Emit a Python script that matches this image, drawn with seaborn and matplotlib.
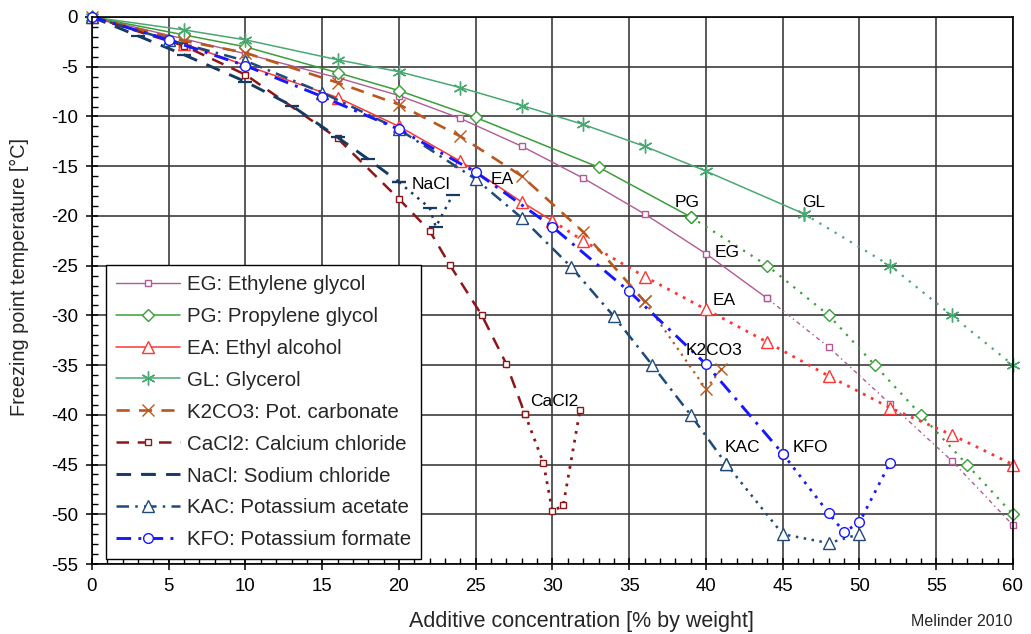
import matplotlib
matplotlib.use("Agg")
import matplotlib.pyplot as plt
from matplotlib.lines import Line2D
from matplotlib.ticker import MultipleLocator
import pandas as pd
import seaborn as sns

# Freezing point of aqueous secondary fluids vs. concentration (Melinder 2010)
eg_conc = [0, 6, 10, 16, 20, 24, 28, 32, 36, 40, 44, 48, 52, 56, 60]
eg_temp = [0, -2.2, -3.7, -6.1, -7.9, -10.2, -13.0, -16.2, -19.8, -23.8, -28.3, -33.2, -38.9, -44.6, -51.1]

pg_conc = [0, 6, 10, 16, 20, 25, 33, 39, 44, 48, 51, 54, 57, 60]
pg_temp = [0, -1.8, -3.0, -5.6, -7.4, -10.1, -15.1, -20.1, -25.0, -30.0, -35.0, -40.0, -45.0, -50.0]

ea_conc = [0, 6, 16, 20, 24, 28, 30, 32, 36, 40, 44, 48, 52, 56, 60]
ea_temp = [0, -2.7, -8.1, -11.0, -14.5, -18.6, -20.5, -22.5, -26.1, -29.4, -32.7, -36.1, -39.3, -42.0, -45.0]

gl_conc = [0, 6, 10, 16, 20, 24, 28, 32, 36, 40, 46.4, 52, 56, 60]
gl_temp = [0, -1.3, -2.3, -4.3, -5.5, -7.1, -8.9, -10.8, -13.0, -15.5, -19.8, -25.0, -30.0, -35.0]

k2co3_conc = [0, 6, 10, 16, 20, 24, 28, 32, 36, 40, 41]
k2co3_temp = [0, -2.4, -3.6, -6.6, -8.8, -12.0, -16.0, -21.6, -28.6, -37.4, -35.4]

cacl2_conc = [0, 6, 10, 16, 20, 22, 23.3, 25.4, 27, 28.2, 29.4, 30, 30.7, 31.8]
cacl2_temp = [0, -2.9, -5.8, -12.2, -18.3, -21.5, -24.9, -30.0, -34.9, -39.9, -44.8, -49.7, -49.1, -39.5]

nacl_conc = [0, 3, 6, 10, 13, 16, 18, 20, 22, 22.4, 23.5]
nacl_temp = [0, -1.9, -3.8, -6.5, -8.9, -12.1, -14.3, -16.6, -19.2, -21.1, -17.9]

kac_conc = [0, 5, 10, 15, 20, 25, 28, 31.2, 34, 36.5, 39, 41.3, 45, 48, 50]
kac_temp = [0, -2.3, -4.4, -7.6, -11.3, -16.3, -20.2, -25.1, -30.1, -35.0, -40.0, -44.9, -52.0, -52.9, -52.0]

kfo_conc = [0, 5, 10, 15, 20, 25, 30, 35, 40, 45, 48, 49, 50, 52]
kfo_temp = [0, -2.3, -4.9, -8.0, -11.3, -15.6, -21.1, -27.6, -34.9, -43.9, -49.9, -51.8, -50.8, -44.8]

legend_labels = [
    "EG: Ethylene glycol", "PG: Propylene glycol", "EA: Ethyl alcohol",
    "GL: Glycerol", "K2CO3: Pot. carbonate", "CaCl2: Calcium chloride",
    "NaCl: Sodium chloride", "KAC: Potassium acetate", "KFO: Potassium formate",
]

# (conc, temp, end of measured range, color, marker, marker size,
#  main linestyle, main lw, extrapolated linestyle, extrapolated lw)
DOT = (0, (1, 2.2))
series = [
    (eg_conc, eg_temp, 44, "#b25a94", "s", 5, "-", 1.0, (0, (3, 2.5, 1, 2.5)), 1.0),
    (pg_conc, pg_temp, 39, "#3a9e3a", "D", 6.5, "-", 1.1, (0, (1, 3)), 1.6),
    (ea_conc, ea_temp, 30, "#ff3434", "^", 8, "-", 1.1, DOT, 2.0),
    (gl_conc, gl_temp, 46.4, "#4aa872", (6, 2, 0), 10, "-", 1.1, (0, (1, 3)), 1.6),
    (k2co3_conc, k2co3_temp, 36, "#b8581f", "x", 8, (0, (5, 3.5)), 1.9, DOT, 1.6),
    (cacl2_conc, cacl2_temp, 28.2, "#8e1616", "s", 5, (0, (5, 3.5)), 1.8, DOT, 2.0),
    (nacl_conc, nacl_temp, 20, "#163a66", "_", 10, (0, (5, 3.5)), 2.1, DOT, 1.8),
    (kac_conc, kac_temp, 41.3, "#1f4a7c", "^", 8, (0, (5, 2.5, 1, 2.5)), 1.8, DOT, 1.8),
    (kfo_conc, kfo_temp, 45, "#1818ff", "o", 7, (0, (5, 2.5, 1, 2.5)), 2.1, DOT, 2.0),
]

sns.set_style("ticks")
plt.rcParams["font.family"] = ["Liberation Sans", "DejaVu Sans"]
plt.rcParams["axes.unicode_minus"] = False

fig = plt.figure(figsize=(10.31, 6.34), dpi=100)
ax = fig.add_axes([0.0892, 0.1104, 0.8933, 0.8628])

handles = []
for conc, temp, end, color, marker, ms, ls, lw, ext_ls, ext_lw in series:
    df = pd.DataFrame({"conc": conc, "temp": temp})
    measured = df[df["conc"] <= end]
    extrapolated = df[df["conc"] >= end]
    mew = 1.6 if marker == "_" else 1.0
    common = dict(ax=ax, x="conc", y="temp", color=color, marker=marker,
                  markersize=ms, mfc="white", mec=color, mew=mew,
                  sort=False, estimator=None, legend=False, clip_on=False)
    if len(extrapolated) > 1:
        sns.lineplot(data=extrapolated, linestyle=ext_ls, linewidth=ext_lw, **common)
    sns.lineplot(data=measured, linestyle=ls, linewidth=lw, **common)
    handles.append(Line2D([], [], color=color, linestyle=ls, linewidth=lw,
                          marker=marker, markersize=ms, mfc="white",
                          mec=color, mew=mew))

ax.set_xlim(0, 60)
ax.set_ylim(-55, 0)
ax.xaxis.set_major_locator(MultipleLocator(5))
ax.xaxis.set_minor_locator(MultipleLocator(1))
ax.yaxis.set_major_locator(MultipleLocator(5))
ax.yaxis.set_minor_locator(MultipleLocator(1))
ax.tick_params(which="major", direction="inout", length=8, width=1.1,
               labelsize=13.4, colors="black", pad=6)
ax.tick_params(which="minor", direction="in", length=4, width=1.0, colors="black")
ax.grid(which="major", color="#353535", linewidth=1.15)
ax.set_axisbelow(True)
for sp in ax.spines.values():
    sp.set_color("black")
    sp.set_linewidth(1.2)

ax.set_xlabel("Additive concentration [% by weight]", fontsize=15.5)
ax.set_ylabel("Freezing point temperature [°C]", fontsize=14.3)
ax.xaxis.set_label_coords(0.531, -0.085)
ax.yaxis.set_label_coords(-0.068, 0.525)

# curve names placed next to their lines
curve_names = [
    ("NaCl", 22.1, -16.8), ("EA", 26.7, -16.3), ("PG", 38.8, -18.7),
    ("GL", 47.0, -18.7), ("EG", 41.4, -23.7), ("EA", 41.2, -28.5),
    ("K2CO3", 40.5, -33.5), ("CaCl2", 30.1, -38.7), ("KAC", 42.4, -43.3),
    ("KFO", 46.8, -43.3),
]
for name, cx, cy in curve_names:
    ax.text(cx, cy, name, ha="center", va="center", fontsize=12.5, color="black")

fig.text(0.982, 0.008, "Melinder 2010", ha="right", va="bottom", fontsize=11.5)

leg = ax.legend(handles, legend_labels, loc="lower left",
                bbox_to_anchor=(0.0152, 0.009), borderaxespad=0,
                fontsize=14.8, handlelength=3.15, handletextpad=0.34,
                labelspacing=0.63, borderpad=0.47, fancybox=False,
                framealpha=1, edgecolor="black", numpoints=1)
leg.get_frame().set_linewidth(1.0)

fig.savefig("out.png", dpi=100)
